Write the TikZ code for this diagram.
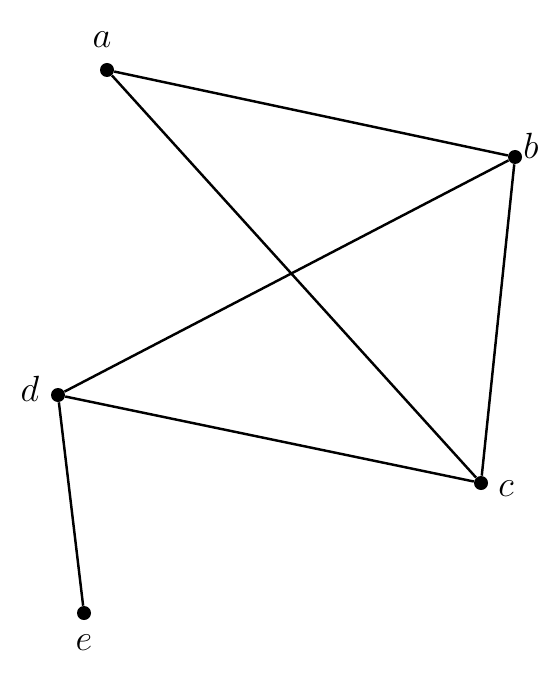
\documentclass[tikz,border=0pt]{standalone}
\usepackage{tikz}

\tikzset{
  vertex/.style={circle, fill=black, inner sep=0pt, minimum size=0.28cm},
  vlabel/.style={font=\huge},
  edge/.style={line width=1.4pt}
}

\begin{document}
\begin{tikzpicture}[x=1cm, y=1cm]
\useasboundingbox (0,0) rectangle (10.86,-13.46);
% vertices
\node[vertex] (a) at (2.14,-1.40) {};
\node[vertex] (b) at (10.30,-3.14) {};
\node[vertex] (c) at (9.62,-9.66) {};
\node[vertex] (d) at (1.16,-7.90) {};
\node[vertex] (e) at (1.68,-12.26) {};
% labels
\node[vlabel] (la) at (2.04,-0.80) {$a$};
\node[vlabel] (lb) at (10.62,-2.92) {$b$};
\node[vlabel] (lc) at (10.12,-9.78) {$c$};
\node[vlabel] (ld) at (0.60,-7.78) {$d$};
\node[vlabel] (le) at (1.68,-12.86) {$e$};
% edges
\draw[edge] (a) -- (b);
\draw[edge] (a) -- (c);
\draw[edge] (b) -- (d);
\draw[edge] (b) -- (c);
\draw[edge] (d) -- (c);
\draw[edge] (d) -- (e);
\end{tikzpicture}
\end{document}
